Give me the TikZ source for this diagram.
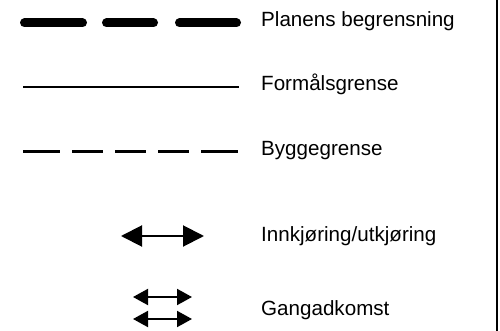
\documentclass[tikz,border=0pt]{standalone}
\usepackage{fontspec}
\setmainfont{Liberation Sans}
\usetikzlibrary{arrows.meta}
\begin{document}
\begin{tikzpicture}[x=1pt,y=-1pt,
  lbl/.style={anchor=base west,inner sep=0pt,font=\fontsize{20.6pt}{24pt}\selectfont},
  thickdash/.style={line width=9pt,line cap=round},
  thindash/.style={line width=3pt},
  solidline/.style={line width=2pt},
  dblarrow/.style={line width=2pt,{Triangle[length=21pt,width=21pt]}-{Triangle[length=21pt,width=21pt]}},
  smallarrow/.style={line width=2pt,{Triangle[length=15pt,width=16pt]}-{Triangle[length=15pt,width=16pt]}}]
\useasboundingbox (0,0) rectangle (500,331);
% right border
\draw[line width=2pt] (497,0) -- (497,331);
% Planens begrensning
\draw[thickdash] (24.5,23) -- (82.5,23);
\draw[thickdash] (106.5,23) -- (153.5,23);
\draw[thickdash] (179.5,23) -- (236.5,23);
\node[lbl] (t1) at (261,26.2) {Planens begrensning};
% Formaalsgrense
\draw[solidline] (23,87) -- (239,87);
\node[lbl] (t2) at (261,90.7) {Formålsgrense};
% Byggegrense
\foreach \a/\b in {23/60,72/103,115/146,158/189,201/238}
  \draw[thindash] (\a,152) -- (\b,152);
\node[lbl] (t3) at (261,155.2) {Byggegrense};
% Innkjoering
\coordinate (a1) at (121,236);
\coordinate (a2) at (204,236);
\draw[dblarrow] (a1) -- (a2);
\node[lbl] (t4) at (261,241.9) {Innkjøring/utkjøring};
% Gangadkomst
\coordinate (b1) at (133,297);
\coordinate (b2) at (192,297);
\coordinate (c1) at (133,319);
\coordinate (c2) at (192,319);
\draw[smallarrow] (b1) -- (b2);
\draw[smallarrow] (c1) -- (c2);
\node[lbl] (t5) at (261,315.9) {Gangadkomst};
\end{tikzpicture}
\end{document}
